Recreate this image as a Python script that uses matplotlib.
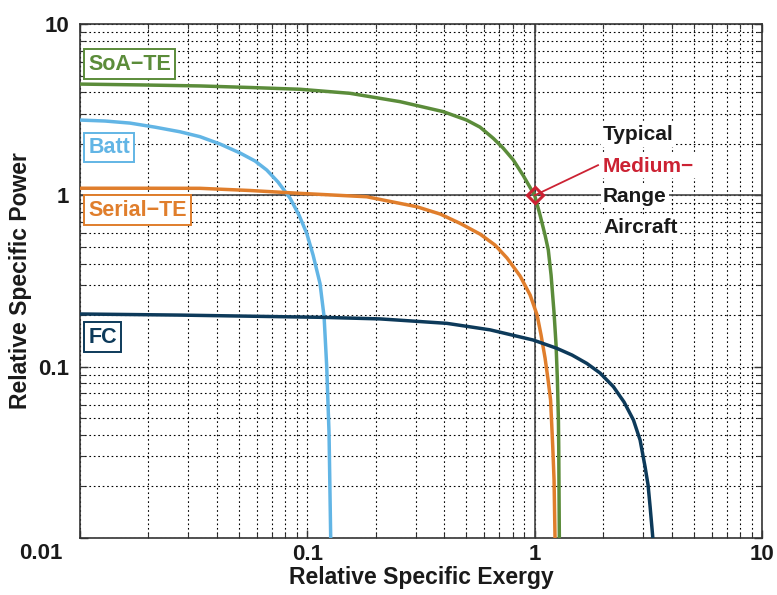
import matplotlib
matplotlib.use("Agg")
import matplotlib.pyplot as plt
from matplotlib.ticker import LogLocator, NullFormatter, FixedLocator

plt.rcParams['font.family'] = ['Liberation Sans', 'DejaVu Sans']
plt.rcParams['font.weight'] = 'bold'

# ---- data ----
soa_x = [0.01, 0.01837, 0.0337, 0.0560, 0.0929, 0.154, 0.256, 0.396, 0.502, 0.575, 0.658, 0.726,
         0.805, 0.889, 1.0, 1.056, 1.111, 1.148, 1.181, 1.217, 1.242, 1.259, 1.272, 1.276, 1.284]
soa_y = [4.46, 4.41, 4.35, 4.26, 4.16, 3.94, 3.52, 3.08, 2.75, 2.50, 2.15, 1.89,
         1.61, 1.31, 1.0, 0.767, 0.586, 0.48, 0.342, 0.206, 0.1337, 0.0835, 0.0488, 0.0341, 0.01]

batt_x = [0.01, 0.01288, 0.0166, 0.02138, 0.0275, 0.0337, 0.0413, 0.0506, 0.0589, 0.0663, 0.0743,
          0.0839, 0.0919, 0.0994, 0.106, 0.1137, 0.1185, 0.1217, 0.1246, 0.1267]
batt_y = [2.75, 2.715, 2.64, 2.50, 2.35, 2.20, 1.993, 1.766, 1.586, 1.405, 1.196,
          0.964, 0.767, 0.600, 0.448, 0.306, 0.1956, 0.0999, 0.0408, 0.01]

serial_x = [0.01, 0.01837, 0.0337, 0.0560, 0.0929, 0.1825, 0.303, 0.3836, 0.470, 0.575, 0.669, 0.756,
            0.863, 0.955, 1.025, 1.067, 1.111, 1.146, 1.175, 1.201, 1.217, 1.229]
serial_y = [1.10, 1.10, 1.099, 1.067, 1.027, 0.981, 0.858, 0.778, 0.686, 0.594, 0.5128, 0.4305,
            0.338, 0.262, 0.2001, 0.1529, 0.1123, 0.0835, 0.0638, 0.0341, 0.0218, 0.01]

fc_x = [0.01, 0.0275, 0.1176, 0.209, 0.411, 0.637, 0.986, 1.251, 1.46, 1.695, 1.94, 2.22,
        2.474, 2.72, 2.909, 3.06, 3.154, 3.22, 3.31]
fc_y = [0.203, 0.200, 0.194, 0.190, 0.179, 0.164, 0.143, 0.128, 0.1169, 0.1045, 0.0918, 0.0764,
        0.0621, 0.0488, 0.0373, 0.026, 0.02036, 0.0152, 0.01]

series_names = ["SoA\u2212TE", "Batt", "Serial\u2212TE", "FC"]
colors = ["#5b8c3a", "#62b5e5", "#e07e2c", "#0d3a5a"]

tick_vals = [0.01, 0.1, 1, 10]
tick_labels = ["0.01", "0.1", "1", "10"]

point_x, point_y = 1.0, 1.0
note_lines = ["Typical", "Medium\u2212", "Range", "Aircraft"]

# ---- figure ----
fig = plt.figure(figsize=(7.77, 5.95), dpi=100)
ax = fig.add_axes([80/777, 1-538/595, 682/777, 514/595])
ax.set_xscale('log')
ax.set_yscale('log')
ax.set_xlim(0.01, 10)
ax.set_ylim(0.01, 10)

# grid
ax.grid(True, which='both', color='black', linestyle=(0, (1.5, 2.5)), linewidth=0.8)
ax.set_axisbelow(True)

# reference lines
ax.axvline(point_x, color='#444444', linewidth=1.2, zorder=2)
ax.axhline(point_y, color='#444444', linewidth=1.2, zorder=2)

curves = [(soa_x, soa_y), (batt_x, batt_y), (serial_x, serial_y), (fc_x, fc_y)]
for (xs, ys), c in zip(curves, colors):
    ax.plot(xs, ys, color=c, linewidth=2.5, solid_capstyle='butt',
            solid_joinstyle='round', zorder=3)

# labels with boxes
label_pos = [(0.012, 0.922), (0.012, 0.760), (0.012, 0.638), (0.012, 0.391)]
for name, c, (px, py) in zip(series_names, colors, label_pos):
    ax.text(px, py, name, transform=ax.transAxes, color=c, fontsize=15.5,
            fontweight='bold', ha='left', va='center', zorder=5,
            bbox=dict(boxstyle='square,pad=0.2', facecolor='white', edgecolor=c, linewidth=1.4))

# annotation point
red = "#cc2233"
ax.plot([point_x, 1.9], [point_y, 1.5], color=red, linewidth=1.3, zorder=4)
ax.plot([point_x], [point_y], marker='D', markersize=8, markerfacecolor='none',
        markeredgecolor=red, markeredgewidth=2.2, zorder=6)

note_y = [0.774, 0.713, 0.654, 0.593]
for i, (t, yy) in enumerate(zip(note_lines, note_y)):
    ax.text(0.767, yy, t, transform=ax.transAxes, fontsize=15, fontweight='bold',
            color=red if i == 1 else '#1a1a1a', ha='left', va='baseline', zorder=5,
            bbox=dict(boxstyle='square,pad=0.12', facecolor='white', edgecolor='none'))

# ticks
ax.xaxis.set_major_locator(FixedLocator(tick_vals))
ax.yaxis.set_major_locator(FixedLocator(tick_vals))
ax.set_xticklabels(["", "0.1", "1", "10"])
ax.set_yticklabels(["", "0.1", "1", "10"])
ax.xaxis.set_minor_locator(LogLocator(base=10, subs=range(2, 10)))
ax.yaxis.set_minor_locator(LogLocator(base=10, subs=range(2, 10)))
ax.xaxis.set_minor_formatter(NullFormatter())
ax.yaxis.set_minor_formatter(NullFormatter())
ax.tick_params(which='both', direction='in', top=True, right=True, color='#333333')
ax.tick_params(which='major', length=6, width=1.0, labelsize=16)
ax.tick_params(axis='x', which='major', pad=4)
ax.tick_params(axis='y', which='major', pad=8)
ax.tick_params(which='minor', length=3.5, width=0.8)
for lab in ax.get_xticklabels() + ax.get_yticklabels():
    lab.set_fontweight('bold')
    lab.set_color('#1a1a1a')

ax.text(-0.025, -0.03, tick_labels[0], transform=ax.transAxes, fontsize=16,
        fontweight='bold', ha='right', va='center', color='#1a1a1a')

for sp in ax.spines.values():
    sp.set_color('#333333')
    sp.set_linewidth(1.2)

ax.set_xlabel("Relative Specific Exergy", fontsize=16.5, fontweight='bold', labelpad=1, color='#1a1a1a')
ax.set_ylabel("Relative Specific Power", fontsize=16.5, fontweight='bold', labelpad=4, color='#1a1a1a')

fig.savefig("out.png", dpi=100)
